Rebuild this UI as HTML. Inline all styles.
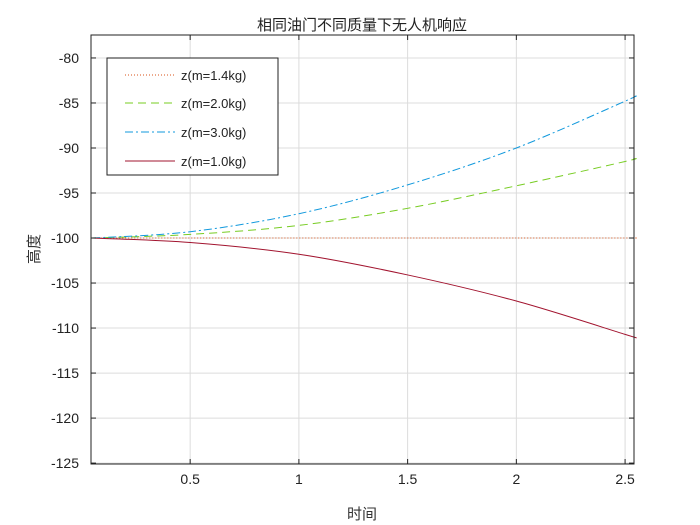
<!DOCTYPE html>
<html><head><meta charset="utf-8"><style>
body{margin:0;background:#fff;}
svg{display:block;font-family:"Liberation Sans","Noto Sans CJK SC",sans-serif;}
</style></head><body>
<svg id="chart" width="700" height="525" viewBox="0 0 700 525">
<rect x="0" y="0" width="700" height="525" fill="#fff"/>
<g id="grid"></g>
<g id="series"></g>
<g id="axes"></g>
<text x="362" y="30" text-anchor="middle" font-size="15" fill="#222">相同油门不同质量下无人机响应</text>
<text x="362" y="519" text-anchor="middle" font-size="15" fill="#333">时间</text>
<text transform="translate(39,249) rotate(-90)" text-anchor="middle" font-size="15" fill="#333">高度</text>
<g>
<rect x="107" y="58" width="171" height="117" fill="#fff" stroke="#222" stroke-width="1"/>
<line x1="125" y1="75" x2="175" y2="75" stroke="#D95319" stroke-dasharray="1,2"/>
<text x="181" y="80" font-size="13" fill="#222">z(m=1.4kg)</text>
<line x1="125" y1="103" x2="175" y2="103" stroke="#77CC22" stroke-dasharray="8,5"/>
<text x="181" y="108" font-size="13" fill="#222">z(m=2.0kg)</text>
<line x1="125" y1="132" x2="175" y2="132" stroke="#1199DD" stroke-dasharray="8,3,2,3"/>
<text x="181" y="137" font-size="13" fill="#222">z(m=3.0kg)</text>
<line x1="125" y1="161" x2="175" y2="161" stroke="#A2142F"/>
<text x="181" y="166" font-size="13" fill="#222">z(m=1.0kg)</text>
</g>
</svg>
<script>
const tValues = [0.05, 0.5, 1, 1.5, 2, 2.5, 2.54];
const m14Values = [-100, -100, -100, -100, -100, -100, -100];
const m20Values = [-100, -99.6, -98.6, -96.7, -94.2, -91.5, -91.2];
const m30Values = [-100, -99.3, -97.3, -94.1, -90.0, -84.8, -84.3];
const m10Values = [-100, -100.5, -101.8, -104.1, -107.0, -110.7, -111.0];
const xTicks = [0.5, 1, 1.5, 2, 2.5];
const xTickLabels = ["0.5", "1", "1.5", "2", "2.5"];
const yTicks = [-80, -85, -90, -95, -100, -105, -110, -115, -120, -125];
const yTickLabels = ["-80", "-85", "-90", "-95", "-100", "-105", "-110", "-115", "-120", "-125"];

const L=91,R=634,T=35,B=464;
const xMin=0.044,xMax=2.541,yMin=-125.1,yMax=-77.45;
const sx=v=>L+(v-xMin)/(xMax-xMin)*(R-L);
const sy=v=>B-(v-yMin)/(yMax-yMin)*(B-T);
const NS="http://www.w3.org/2000/svg";
function mk(tag,attrs,parent){const e=document.createElementNS(NS,tag);for(const k in attrs)e.setAttribute(k,attrs[k]);parent.appendChild(e);return e;}
const grid=document.getElementById('grid'),axes=document.getElementById('axes'),series=document.getElementById('series');
mk('rect',{x:L,y:T,width:R-L,height:B-T,fill:'#fff'},grid);
xTicks.forEach((v,i)=>{
  const x=sx(v);
  const g=mk('line',{x1:x,y1:T,x2:x,y2:B,stroke:'#dcdcdc'},grid);
  
  
  mk('line',{x1:x,y1:B,x2:x,y2:B-5,stroke:'#222'},axes);
  mk('line',{x1:x,y1:T,x2:x,y2:T+5,stroke:'#222'},axes);
  const t=mk('text',{x:x,y:B+20,'text-anchor':'middle','font-size':14,fill:'#222'},axes);
  t.textContent=xTickLabels[i];
  
  
});
yTicks.forEach((v,i)=>{
  const y=sy(v);
  const g=mk('line',{x1:L,y1:y,x2:R,y2:y,stroke:'#dcdcdc'},grid);
  
  
  mk('line',{x1:L,y1:y,x2:L+5,y2:y,stroke:'#222'},axes);
  mk('line',{x1:R,y1:y,x2:R-5,y2:y,stroke:'#222'},axes);
  const t=mk('text',{x:L-12,y:y+5,'text-anchor':'end','font-size':14,fill:'#222'},axes);
  t.textContent=yTickLabels[i];
  
  
});
mk('rect',{x:L,y:T,width:R-L,height:B-T,fill:'none',stroke:'#222'},axes);
function pathFor(vals){
  const p=tValues.map((t,i)=>[sx(t),sy(vals[i])]);
  let d=`M${p[0][0]},${p[0][1]}`;
  for(let i=0;i<p.length-1;i++){
    const p0=p[i-1]||p[i],p1=p[i],p2=p[i+1],p3=p[i+2]||p2;
    const c1=[p1[0]+(p2[0]-p0[0])/6,p1[1]+(p2[1]-p0[1])/6];
    const c2=[p2[0]-(p3[0]-p1[0])/6,p2[1]-(p3[1]-p1[1])/6];
    d+=` C${c1[0]},${c1[1]} ${c2[0]},${c2[1]} ${p2[0]},${p2[1]}`;
  }
  return d;
}
const s1=mk('path',{d:pathFor(m14Values),fill:'none',stroke:'#D95319','stroke-dasharray':'1,2'},series);


const s2=mk('path',{d:pathFor(m20Values),fill:'none',stroke:'#77CC22','stroke-dasharray':'8,5'},series);


const s3=mk('path',{d:pathFor(m30Values),fill:'none',stroke:'#1199DD','stroke-dasharray':'8,3,2,3'},series);


const s4=mk('path',{d:pathFor(m10Values),fill:'none',stroke:'#A2142F'},series);


</script>
</body></html>
